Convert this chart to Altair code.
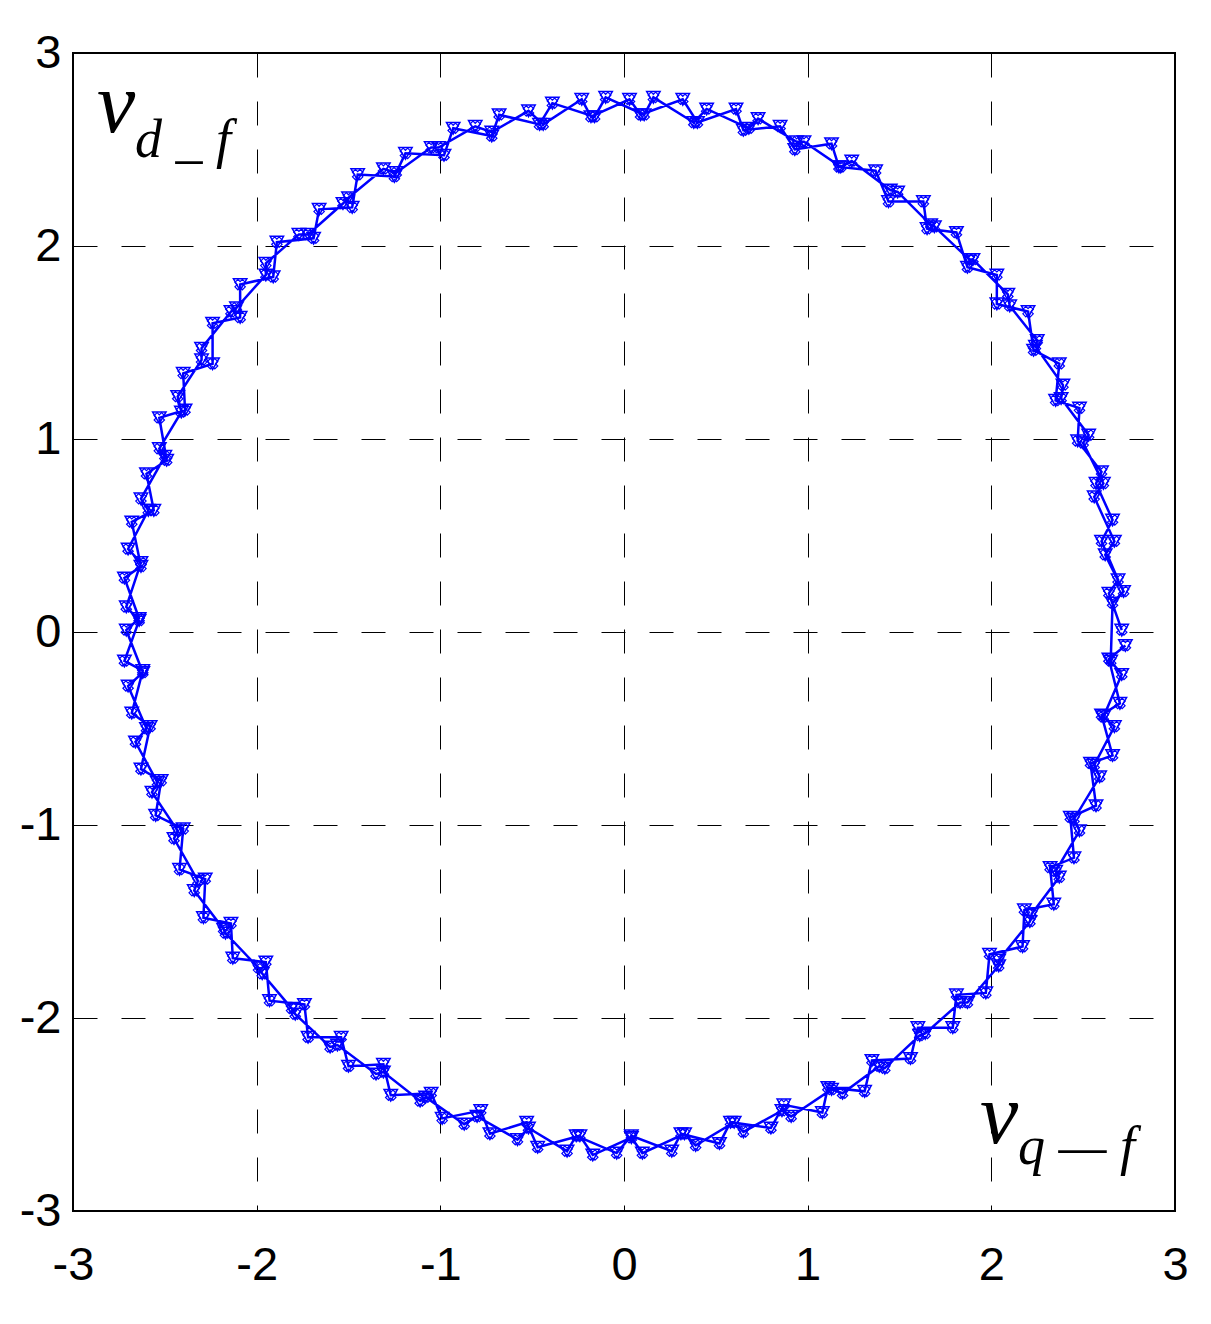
import altair as alt
import pandas as pd

# Trajectory (two passes around the noisy ring)
loop1_x = [2.71, 2.64, 2.69, 2.60, 2.66, 2.57, 2.60, 2.47, 2.48, 2.35, 2.37, 2.23, 2.20, 2.03, 2.03, 1.87, 1.81, 1.65, 1.63, 1.44, 1.37, 1.17, 1.13, 0.93, 0.85, 0.65, 0.61, 0.40, 0.32, 0.09,
           0.03, -0.18, -0.23, -0.44, -0.52, -0.72, -0.81, -1.01, -1.05, -1.24, -1.31, -1.50, -1.53, -1.72, -1.77, -1.95, -1.95, -2.11, -2.14, -2.30, -2.30, -2.43, -2.41, -2.53, -2.50, -2.63, -2.59, -2.70, -2.63, -2.71,
           -2.64, -2.72, -2.62, -2.68, -2.58, -2.63, -2.52, -2.55, -2.40, -2.42, -2.28, -2.29, -2.14, -2.13, -1.95, -1.93, -1.74, -1.72, -1.54, -1.50, -1.31, -1.27, -1.05, -0.99, -0.78, -0.73, -0.53, -0.47, -0.24, -0.17,
           0.04, 0.10, 0.33, 0.39, 0.60, 0.65, 0.86, 0.91, 1.13, 1.19, 1.39, 1.42, 1.61, 1.64, 1.83, 1.87, 2.04, 2.04, 2.21, 2.22, 2.37, 2.35, 2.48, 2.45, 2.59, 2.56, 2.67, 2.61, 2.71, 2.65]
loop1_y = [0.01, 0.20, 0.27, 0.47, 0.58, 0.77, 0.83, 0.99, 1.16, 1.20, 1.39, 1.46, 1.66, 1.70, 1.85, 1.89, 2.07, 2.09, 2.23, 2.23, 2.39, 2.41, 2.53, 2.50, 2.62, 2.60, 2.71, 2.64, 2.76, 2.68,
           2.76, 2.67, 2.76, 2.63, 2.70, 2.59, 2.62, 2.51, 2.51, 2.38, 2.40, 2.25, 2.22, 2.06, 2.06, 1.91, 1.85, 1.68, 1.66, 1.47, 1.41, 1.22, 1.14, 0.95, 0.91, 0.69, 0.63, 0.43, 0.36, 0.13,
           0.06, -0.15, -0.20, -0.42, -0.49, -0.71, -0.77, -0.95, -1.02, -1.23, -1.28, -1.48, -1.51, -1.69, -1.71, -1.91, -1.93, -2.10, -2.10, -2.25, -2.24, -2.40, -2.39, -2.52, -2.48, -2.60, -2.54, -2.67, -2.61, -2.71,
           -2.62, -2.70, -2.60, -2.66, -2.54, -2.59, -2.48, -2.51, -2.37, -2.39, -2.25, -2.26, -2.09, -2.08, -1.92, -1.92, -1.73, -1.70, -1.50, -1.46, -1.27, -1.24, -1.03, -0.97, -0.75, -0.69, -0.49, -0.44, -0.22, -0.15]
loop2_x = [2.66, 2.72, 2.62, 2.67, 2.56, 2.61, 2.50, 2.53, 2.38, 2.39, 2.24, 2.25, 2.10, 2.09, 1.90, 1.88, 1.69, 1.67, 1.49, 1.45, 1.24, 1.18, 0.98, 0.94, 0.73, 0.68, 0.45, 0.38, 0.16, 0.11,
           -0.10, -0.16, -0.39, -0.46, -0.68, -0.72, -0.93, -0.98, -1.19, -1.25, -1.45, -1.48, -1.66, -1.69, -1.89, -1.91, -2.09, -2.09, -2.24, -2.24, -2.40, -2.39, -2.53, -2.49, -2.60, -2.56, -2.68, -2.63, -2.72, -2.64,
           -2.71, -2.62, -2.70, -2.60, -2.66, -2.54, -2.57, -2.43, -2.45, -2.32, -2.34, -2.18, -2.17, -1.99, -1.97, -1.81, -1.79, -1.60, -1.56, -1.35, -1.31, -1.11, -1.08, -0.87, -0.80, -0.58, -0.52, -0.31, -0.26, -0.04,
           0.04, 0.26, 0.31, 0.52, 0.58, 0.80, 0.87, 1.08, 1.11, 1.31, 1.35, 1.56, 1.60, 1.79, 1.81, 1.97, 1.99, 2.17, 2.18, 2.34, 2.32, 2.45, 2.43, 2.57, 2.54, 2.66, 2.60, 2.70, 2.64, 2.73]
loop2_y = [0.15, 0.21, 0.40, 0.47, 0.70, 0.77, 0.98, 1.02, 1.21, 1.28, 1.48, 1.51, 1.69, 1.75, 1.93, 1.93, 2.10, 2.11, 2.28, 2.29, 2.44, 2.41, 2.54, 2.54, 2.66, 2.61, 2.71, 2.64, 2.77, 2.68,
           2.77, 2.67, 2.74, 2.63, 2.68, 2.57, 2.61, 2.47, 2.48, 2.36, 2.37, 2.20, 2.19, 2.04, 2.02, 1.84, 1.80, 1.63, 1.60, 1.39, 1.34, 1.15, 1.11, 0.89, 0.82, 0.63, 0.57, 0.34, 0.28, 0.07,
           0.01, -0.21, -0.28, -0.50, -0.57, -0.78, -0.83, -1.03, -1.07, -1.29, -1.34, -1.54, -1.56, -1.74, -1.77, -1.95, -1.98, -2.15, -2.14, -2.29, -2.28, -2.43, -2.41, -2.55, -2.51, -2.63, -2.57, -2.69, -2.61, -2.70,
           -2.61, -2.69, -2.60, -2.65, -2.54, -2.57, -2.45, -2.49, -2.36, -2.38, -2.22, -2.21, -2.05, -2.05, -1.88, -1.87, -1.67, -1.63, -1.44, -1.41, -1.22, -1.17, -0.96, -0.90, -0.68, -0.64, -0.43, -0.37, -0.14, -0.07]

tick_values = [-3, -2, -1, 0, 1, 2, 3]

xs = loop1_x + loop2_x
ys = loop1_y + loop2_y
df = pd.DataFrame({"vq": xs, "vd": ys, "i": list(range(len(xs)))})

x_scale = alt.Scale(domain=[-3, 3], nice=False, zero=False)
y_scale = alt.Scale(domain=[-3, 3], nice=False, zero=False)

axis_common = dict(
    values=tick_values,
    labelExpr="'' + datum.value",
    grid=True,
    gridColor="#000000",
    gridDash=[24, 24],
    gridWidth=1,
    gridOpacity=1,
    domain=False,
    ticks=False,
    labelFont="Liberation Sans",
    labelFontSize=47,
    labelColor="#000000",
    labelFlush=False,
    labelOverlap=False,
    title=None,
)

enc = dict(
    x=alt.X("vq:Q", scale=x_scale, axis=alt.Axis(labelPadding=31, **axis_common)),
    y=alt.Y("vd:Q", scale=y_scale, axis=alt.Axis(labelPadding=12, **axis_common)),
)

line = alt.Chart(df).mark_line(color="#0000ff", strokeWidth=2.5, clip=True).encode(
    order="i:Q", **enc
)
pts = alt.Chart(df).mark_point(shape="triangle-down", filled=False, color="#0000ff",
                               size=180, strokeWidth=1.5, opacity=1, clip=True).encode(**enc)
crs = alt.Chart(df).mark_point(shape="cross", filled=False, color="#0000ff",
                               size=110, strokeWidth=1.2, opacity=1, clip=True, angle=45).encode(**enc)

ann = pd.DataFrame({"t": ["v"]})
serif = "'Liberation Serif', 'Times New Roman', serif"

v1 = alt.Chart(ann).mark_text(font=serif, fontStyle="italic", fontSize=86, align="left", baseline="alphabetic", color="black").encode(
    x=alt.value(24), y=alt.value(79), text=alt.value("v"))
s1 = alt.Chart(ann).mark_text(font=serif, fontStyle="italic", fontSize=54, align="left", baseline="alphabetic", color="black").encode(
    x=alt.value(62), y=alt.value(104), text=alt.value("d _ f"))
v2 = alt.Chart(ann).mark_text(font=serif, fontStyle="italic", fontSize=86, align="left", baseline="alphabetic", color="black").encode(
    x=alt.value(907), y=alt.value(1090), text=alt.value("v"))
s2 = alt.Chart(ann).mark_text(font=serif, fontStyle="italic", fontSize=54, align="left", baseline="alphabetic", color="black").encode(
    x=alt.value(945), y=alt.value(1111), text=alt.value("q — f"))

chart = alt.layer(line, pts, crs, v1, s1, v2, s2).properties(
    width=1102,
    height=1158,
    padding={"left": 65, "top": 45, "right": 28, "bottom": 100},
    autosize=alt.AutoSizeParams(type="none"),
    background="white",
).configure_view(stroke="#000000", strokeWidth=2)

chart.save("out.html", embed_options={"renderer": "svg", "actions": False})
